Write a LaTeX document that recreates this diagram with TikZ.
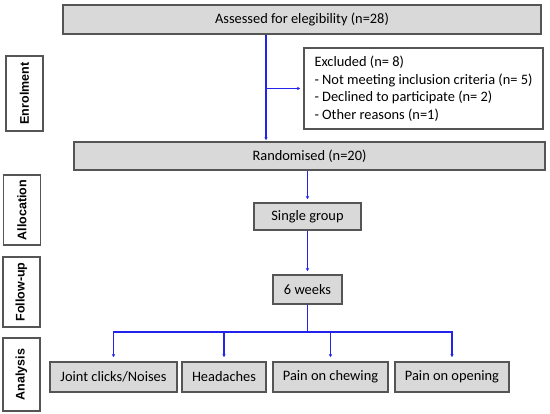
\documentclass[tikz,border=0pt]{standalone}
\usepackage{fontspec}
\setmainfont{Carlito}
\newfontfamily\stagefont{Liberation Sans}
\usetikzlibrary{arrows.meta,positioning}

\definecolor{boxgray}{RGB}{217,217,217}
\definecolor{edgegray}{RGB}{85,85,85}
\definecolor{flowblue}{RGB}{35,35,235}

\tikzset{
  mainbox/.style={draw=edgegray, line width=1.2pt, fill=boxgray, inner sep=0pt,
    font=\fontsize{14.4}{17.5}\selectfont},
  stagebox/.style={draw=edgegray, line width=1.2pt, fill=white, inner sep=0pt, rotate=90,
    minimum height=37pt, font=\stagefont\bfseries\fontsize{12.5}{14}\selectfont},
  flow/.style={draw=flowblue, line width=1.6pt},
  flowarrow/.style={flow, ->, shorten >=3pt}
}

\begin{document}
\begin{tikzpicture}[x=1pt, y=-1pt, >={Latex[length=3pt,width=3.5pt]}]
        \useasboundingbox (0,0) rectangle (550,414);
        % Stages on the left
        \node[stagebox, minimum width=75pt] (enrol) at (24.5,93.5) {Enrolment};
        \node[stagebox, minimum width=70pt] (alloc) at (22,210) {Allocation};
        \node[stagebox, minimum width=70pt] (follow) at (21.5,292) {Follow-up};
        \node[stagebox, minimum width=73pt] (analysis) at (21.5,374.5) {Analysis};
        % Enrolment
        \node[mainbox, minimum width=478pt, minimum height=29pt] (assessed) at (302,19.5) {Assessed for elegibility (n=28)};
        \node[mainbox, fill=white, minimum width=239pt, minimum height=81pt, inner xsep=5pt, align=left] (excluded) at (423.5,88.5) {Excluded (n= 8)\\- Not meeting inclusion criteria (n= 5)\\- Declined to participate (n= 2)\\- Other reasons (n=1)};
        \node[mainbox, minimum width=471pt, minimum height=28pt] (randomised) at (309.5,156) {Randomised (n=20)};
        % Allocation and follow-up
        \node[mainbox, minimum width=107pt, minimum height=27pt] (single) at (307.5,216.5) {Single group};
        \node[mainbox, minimum width=69pt, minimum height=29pt] (weeks) at (307.5,289.5) {6 weeks};
        % Analysis
        \node[mainbox, minimum width=127pt, minimum height=30pt] (clicks) at (113.5,377) {Joint clicks/Noises};
        \node[mainbox, minimum width=84pt, minimum height=30pt] (headaches) at (224,377) {Headaches};
        \node[mainbox, minimum width=115pt, minimum height=30pt] (chewing) at (330.5,377) {Pain on chewing};
        \node[mainbox, minimum width=114pt, minimum height=30pt] (opening) at (452,377) {Pain on opening};
        % Connectors
        \coordinate (split) at (266,88.5);
        \coordinate (hub) at (307.5,332);
        \draw[flowarrow, shorten >=1pt] (assessed.south -| split) -- (randomised.north -| split);
        \draw[flowarrow] (split) -- (excluded.west);
        \draw[flowarrow] (randomised.south -| single.north) -- (single.north);
        \draw[flowarrow] (single) -- (weeks);
        \draw[flow] (weeks) -- (hub);
        \foreach \target in {clicks, headaches, chewing, opening}
          \draw[flowarrow, shorten >=4pt] (hub) -| (\target.north);
\end{tikzpicture}
\end{document}
